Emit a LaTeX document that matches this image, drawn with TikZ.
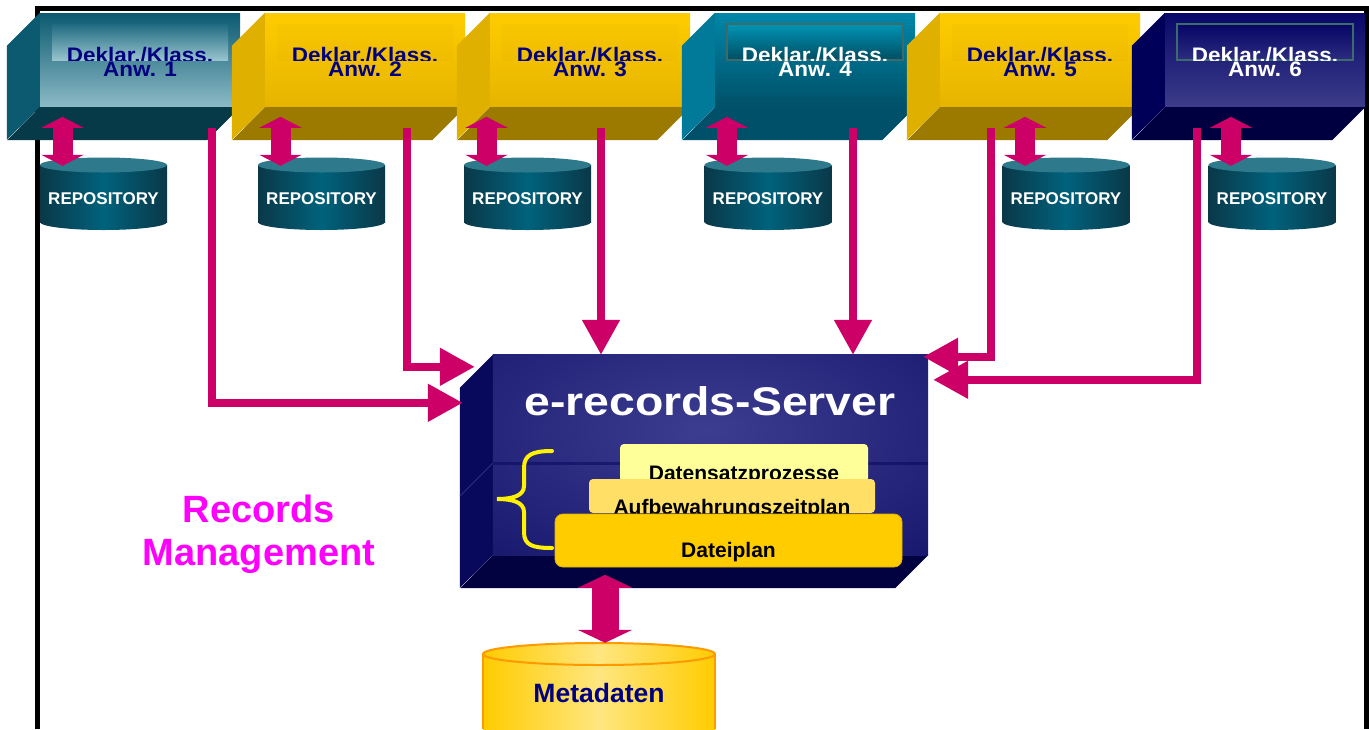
\documentclass[tikz,border=0pt]{standalone}
\usepackage{fontspec}
\setmainfont{Liberation Sans}
\usetikzlibrary{arrows.meta}

% colours
\definecolor{mag}{HTML}{CC0066}
\definecolor{navytext}{HTML}{000080}
\definecolor{rmpink}{HTML}{FF00FF}
% teal application box (light)
\definecolor{taTop}{HTML}{0B5A70}
\definecolor{taBot}{HTML}{8CBAC6}
\definecolor{taInTop}{HTML}{1F6A80}
\definecolor{taInBot}{HTML}{97C3CD}
\definecolor{taSide}{HTML}{0B5A70}
\definecolor{taBase}{HTML}{063A48}
% gold application box
\definecolor{goTop}{HTML}{FFCC00}
\definecolor{goBot}{HTML}{E6B400}
\definecolor{goInTop}{HTML}{F8C600}
\definecolor{goInBot}{HTML}{EFBD00}
\definecolor{goSide}{HTML}{DFB000}
\definecolor{goBase}{HTML}{9C7A00}
% teal application box (dark)
\definecolor{tbTop}{HTML}{0087A8}
\definecolor{tbBot}{HTML}{005068}
\definecolor{tbInTop}{HTML}{0094B4}
\definecolor{tbInBot}{HTML}{004D62}
\definecolor{tbSide}{HTML}{007A98}
\definecolor{tbBase}{HTML}{00506A}
% navy application box
\definecolor{nvTop}{HTML}{08086A}
\definecolor{nvBot}{HTML}{3C3C8A}
\definecolor{nvInTop}{HTML}{060666}
\definecolor{nvInBot}{HTML}{2C2C80}
\definecolor{nvSide}{HTML}{000058}
\definecolor{nvBase}{HTML}{000040}
\definecolor{rim}{HTML}{3D6B6B}
% repositories
\definecolor{cylD}{HTML}{0A3848}
\definecolor{cylM}{HTML}{00627C}
\definecolor{cylT}{HTML}{2E7A8C}
% server
\definecolor{srvdark}{HTML}{0A0A62}
\definecolor{srvlight}{HTML}{3C3C90}
\definecolor{srvside}{HTML}{08085C}
\definecolor{srvbase}{HTML}{020240}
\definecolor{lay1}{HTML}{FFFF99}
\definecolor{lay2}{HTML}{FFDF66}
\definecolor{lay3}{HTML}{FFCC00}
% metadata store
\definecolor{meO}{HTML}{FF9900}
\definecolor{meE}{HTML}{FFCC00}
\definecolor{meM}{HTML}{FFE680}

\tikzset{
  frame/.style={draw=black, line width=5pt},
  boxface/.style={minimum width=200pt, minimum height=94pt, inner sep=0pt, draw=none},
  boxtitle/.style={font=\bfseries\fontsize{21}{21}\selectfont, inner sep=0pt},
  tealA face/.style={top color=taTop, bottom color=taBot},
  tealA inner/.style={top color=taInTop, bottom color=taInBot},
  tealA side/.style={fill=taSide},
  tealA base/.style={fill=taBase},
  tealA text/.style={text=navytext},
  gold face/.style={top color=goTop, bottom color=goBot},
  gold inner/.style={top color=goInTop, bottom color=goInBot},
  gold side/.style={fill=goSide},
  gold base/.style={fill=goBase},
  gold text/.style={text=navytext},
  tealB face/.style={top color=tbTop, bottom color=tbBot},
  tealB inner/.style={top color=tbInTop, bottom color=tbInBot, draw=rim, line width=1.5pt},
  tealB side/.style={fill=tbSide},
  tealB base/.style={fill=tbBase},
  tealB text/.style={text=white},
  nv face/.style={top color=nvTop, bottom color=nvBot},
  nv inner/.style={top color=nvInTop, bottom color=nvInBot, draw=rim, line width=1.5pt},
  nv side/.style={fill=nvSide},
  nv base/.style={fill=nvBase},
  nv text/.style={text=white},
  cylbody/.style={left color=cylD, right color=cylD, middle color=cylM},
  repotext/.style={font=\bfseries\fontsize{17}{17}\selectfont, text=white, inner sep=0pt},
  srvnode/.style={minimum width=435pt, minimum height=200pt, inner sep=0pt, fill=srvdark},
  srvtitle/.style={font=\bfseries\fontsize{40}{40}\selectfont, text=white, inner sep=0pt},
  layer/.style={inner sep=0pt, rounded corners=4pt},
  laytext/.style={font=\bfseries\fontsize{21}{21}\selectfont, text=black, inner sep=0pt},
  conn/.style={draw=mag, line width=8pt, -{Triangle[length=35pt,width=36pt]}},
  dbl/.style={draw=mag, line width=20pt,
    {Triangle[length=11pt,width=42pt]}-{Triangle[length=11pt,width=42pt]}},
  dblbig/.style={draw=mag, line width=27pt,
    {Triangle[length=13pt,width=54pt]}-{Triangle[length=13pt,width=54pt]}},
  rmtext/.style={font=\bfseries\fontsize{38}{38}\selectfont, text=rmpink, inner sep=0pt},
  metatext/.style={font=\bfseries\fontsize{26.5}{26.5}\selectfont, text=navytext, inner sep=0pt},
}

% application box: name, left x of front face, colour scheme, number
\newcommand\appbox[4]{%
  \node[boxface, #3 face] (#1) at ({#2+100},60) {};
  \fill[#3 side] (#1.north west) -- ++(-33,33) -- ++(0,94) -- (#1.south west) -- cycle;
  \fill[#3 base] (#1.south west) -- (#1.south east) -- ++(-33,33) -- ++(-200,0) -- cycle;
  \node[#3 inner, minimum width=176pt, minimum height=36pt, inner sep=0pt] (#1i) at ({#2+100},42) {};
  \begin{scope}
    \clip (#1i.north west) rectangle (#1i.south east);
    \node[boxtitle, #3 text, anchor=base] (#1a) at ({#2+100},62) {\scalebox{1.07}[1]{Deklar./Klass.}};
  \end{scope}
  \node[boxtitle, #3 text, anchor=base] (#1b) at ({#2+100},76) {\scalebox{1.07}[1]{Anw. #4}};
}

% repository cylinder: name, centre x
\newcommand\repo[2]{%
  \node[minimum width=127pt, minimum height=72pt, inner sep=0pt] (#1) at (#2,194) {};
  \shade[cylbody] ({#2-63.5},165) rectangle ({#2+63.5},222);
  \shade[cylbody] (#2,222) ellipse [x radius=63.5, y radius=8];
  \fill[cylT] (#2,165) ellipse [x radius=63.5, y radius=7.5];
  \node[repotext, anchor=base] (#1t) at (#2,204) {REPOSITORY};
}

\begin{document}
\begin{tikzpicture}[x=1pt,y=-1pt]
\useasboundingbox (0,0) rectangle (1369,729);
\fill[white] (0,0) rectangle (1369,729);

% outer frame
\draw[frame] (37.5,729) -- (37.5,8.5) -- (1366.5,8.5) -- (1366.5,729);

% applications
\appbox{b1}{40}{tealA}{1}
\appbox{b2}{265}{gold}{2}
\appbox{b3}{490}{gold}{3}
\appbox{b4}{715}{tealB}{4}
\appbox{b5}{940}{gold}{5}
\appbox{b6}{1165}{nv}{6}

% e-records server block
\node[srvnode] (srv) at (710.5,455) {};
\fill[srvside] (srv.north west) -- ++(-33,33) -- ++(0,200) -- (srv.south west) -- cycle;
\fill[srvbase] (srv.south west) -- (srv.south east) -- ++(-33,33) -- ++(-435,0) -- cycle;
\begin{scope}
  \clip (srv.north west) rectangle (srv.south east);
  \shade[inner color=srvlight, outer color=srvdark] (705,430) ellipse [x radius=470, y radius=230];
  \draw[srvdark, line width=3pt, opacity=0.6] (493,463) -- (928,463);
\end{scope}
\draw[srvlight!70!srvdark, line width=0.8pt] (493,463) -- (460,496);
\node[srvtitle, anchor=base] (srvt) at (710,415) {\scalebox{1.16}[1]{e-records-Server}};

% stacked layers inside the server
\node[layer, fill=lay1, minimum width=248pt, minimum height=38pt] (l1) at (744,463) {};
\node[laytext, anchor=base] (l1t) at (744,480) {Datensatzprozesse};
\node[layer, fill=lay2, minimum width=286pt, minimum height=34pt] (l2) at (732,496) {};
\node[laytext, anchor=base] (l2t) at (732,514) {Aufbewahrungszeitplan};
\node[layer, fill=lay3, draw=goSide, line width=0.8pt, minimum width=347pt, minimum height=53pt, rounded corners=8pt] (l3) at (728.5,540.5) {};
\node[laytext, anchor=base] (l3t) at (728.5,557) {Dateiplan};

% brace grouping the layers
\draw[yellow, line width=4pt, line cap=round]
  (552,451) .. controls (532,451) and (524,455) .. (524,468) -- (524,486)
  .. controls (524,496) and (512,499) .. (497,499)
  .. controls (512,499) and (524,502) .. (524,512) -- (524,532)
  .. controls (524,545) and (532,548) .. (552,548);

% application-to-server connectors
\coordinate (s1) at ([shift={(72,21)}]b1.south);
\coordinate (s2) at ([shift={(42,21)}]b2.south);
\coordinate (s3) at ([shift={(11,21)}]b3.south);
\coordinate (s4) at ([shift={(38,21)}]b4.south);
\coordinate (s5) at ([shift={(-49,21)}]b5.south);
\coordinate (s6) at ([shift={(-68,21)}]b6.south);
\coordinate (e1) at ([shift={(-30,48)}]srv.north west);
\coordinate (e2) at ([shift={(-18,12)}]srv.north west);
\coordinate (e5) at ([shift={(-5,2)}]srv.north east);
\coordinate (e6) at ([shift={(5,25)}]srv.north east);
\draw[conn] (s1) |- (e1);
\draw[conn] (s2) |- (e2);
\draw[conn] (s3) -- (s3 |- srv.north);
\draw[conn] (s4) -- (s4 |- srv.north);
\draw[conn] (s5) |- (e5);
\draw[conn] (s6) |- (e6);

% repositories
\repo{r1}{103.5}
\repo{r2}{321.5}
\repo{r3}{527.5}
\repo{r4}{768}
\repo{r5}{1066}
\repo{r6}{1272}

% application <-> repository
\foreach \r in {r1,r2,r3,r4,r5,r6}
  \draw[dbl] ([shift={(-41,8)}]\r.north) -- ++(0,-49);

% caption
\node[rmtext, anchor=base] (rm1) at (259,522) {Records};
\node[rmtext, anchor=base] (rm2) at (259,565) {Management};

% metadata store
\node[minimum width=232pt, minimum height=86pt, inner sep=0pt] (meta) at (599,686) {};
\shade[left color=meE, right color=meE, middle color=meM] (483,654) rectangle (715,729);
\draw[meO, line width=2pt] (483,654) -- (483,729) (715,654) -- (715,729);
\shade[left color=meE, right color=meE, middle color=meM] (599,654) ellipse [x radius=116, y radius=11];
\draw[meO, line width=2pt] (599,654) ellipse [x radius=116, y radius=11];
\node[metatext, anchor=base] (metat) at (599,702) {Metadaten};

% server <-> metadata
\draw[dblbig] ([xshift=6pt]meta.north) -- ++(0,-68);
\end{tikzpicture}
\end{document}
